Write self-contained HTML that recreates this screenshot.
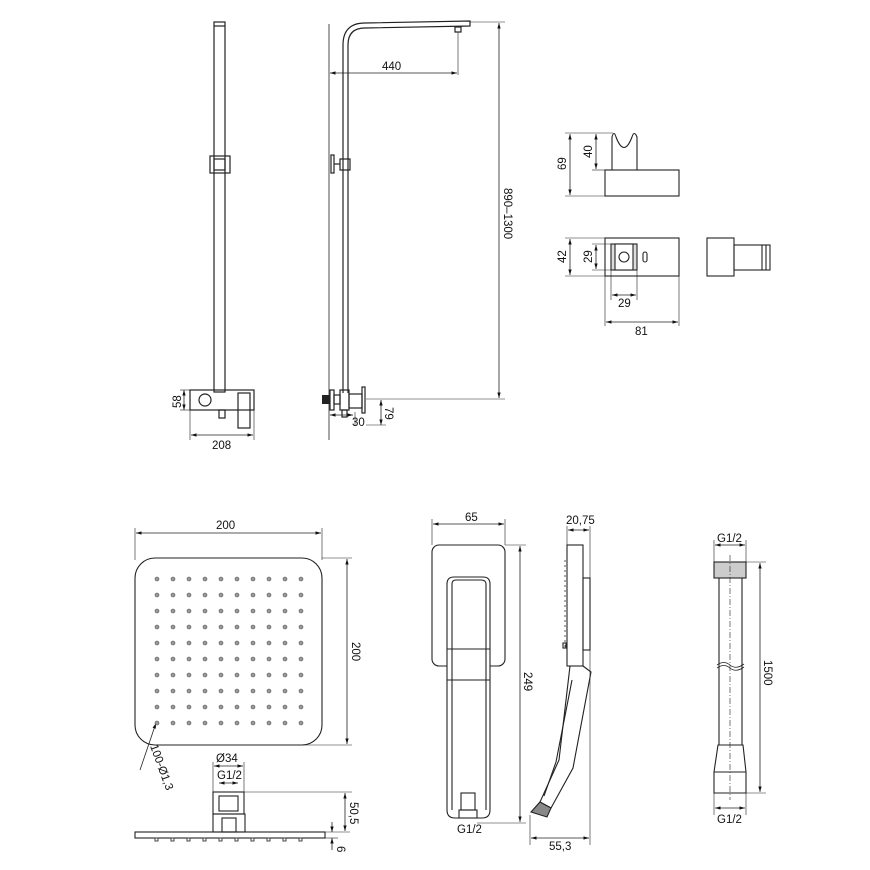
<!DOCTYPE html>
<html><head><meta charset="utf-8"><style>
html,body{margin:0;padding:0;background:#fff}
svg{display:block}
text{font-family:"Liberation Sans",sans-serif;font-size:11.5px;fill:#111}
</style></head><body>
<svg width="870" height="870" viewBox="0 0 870 870" xmlns="http://www.w3.org/2000/svg">
<defs>
<marker id="a" viewBox="0 0 10 10" refX="10" refY="5" markerWidth="7" markerHeight="7" orient="auto-start-reverse"><path d="M0,2 L10,5 L0,8z" fill="#111"/></marker>
</defs>
<g fill="none" stroke="#222" stroke-width="1.2">
<rect x="214" y="22" width="11" height="370"/>
<line x1="214" y1="26" x2="225" y2="26"/>
<rect x="210" y="156" width="20" height="17"/>
<rect x="214" y="159" width="11" height="11"/>
<rect x="190" y="390" width="64" height="20"/>
<circle cx="205" cy="400" r="6"/>
<rect x="238" y="393" width="12" height="35"/>
<rect x="219" y="410" width="6" height="8"/>
<line x1="184" y1="390" x2="184" y2="410" stroke-width="0.8" marker-start="url(#a)" marker-end="url(#a)"/>
<line x1="180" y1="390" x2="190" y2="390" stroke-width="0.6"/>
<line x1="180" y1="410" x2="190" y2="410" stroke-width="0.6"/>
<line x1="190" y1="410" x2="190" y2="440" stroke-width="0.6"/>
<line x1="254" y1="410" x2="254" y2="440" stroke-width="0.6"/>
<line x1="191" y1="435" x2="253" y2="435" stroke-width="0.8" marker-start="url(#a)" marker-end="url(#a)"/>

<line x1="329" y1="24" x2="329" y2="440" stroke-width="0.8"/>
<path d="M343,393 L343,45 Q343,23 365,23 L470,21 L470,26 L365,28 Q348,28 348,45 L348,393"/>
<rect x="455" y="27" width="6" height="5"/>
<line x1="458" y1="32" x2="458" y2="75" stroke-width="0.6"/>
<line x1="330" y1="73" x2="457" y2="73" stroke-width="0.8" marker-start="url(#a)" marker-end="url(#a)"/>
<rect x="340" y="159" width="10" height="11"/>
<rect x="331" y="155" width="3" height="18"/>
<line x1="334" y1="164" x2="340" y2="164"/>
<line x1="470" y1="22" x2="505" y2="22" stroke-width="0.6"/>
<line x1="366" y1="399" x2="505" y2="399" stroke-width="0.6"/>
<line x1="499" y1="23" x2="499" y2="398" stroke-width="0.8" marker-start="url(#a)" marker-end="url(#a)"/>
<rect x="330" y="390" width="4" height="20"/>
<rect x="334" y="395" width="6" height="9"/>
<rect x="340" y="390" width="9" height="20"/>
<rect x="349" y="394" width="13" height="14"/>
<rect x="362" y="387" width="3" height="26"/>
<rect x="342" y="410" width="5" height="7"/>
<line x1="366" y1="425" x2="386" y2="425" stroke-width="0.6"/>
<line x1="381" y1="400" x2="381" y2="425" stroke-width="0.8" marker-start="url(#a)" marker-end="url(#a)"/>
<line x1="330" y1="415" x2="353" y2="415" stroke-width="0.8" marker-start="url(#a)" marker-end="url(#a)"/>
<line x1="355" y1="412" x2="355" y2="426" stroke-width="0.6"/>
</g>
<rect x="322" y="395" width="8" height="9" fill="#222"/>
<text x="0" y="0" transform="translate(181,408) rotate(-90)">58</text>
<text x="212" y="449">208</text>
<text x="382" y="70">440</text>
<text x="0" y="0" transform="translate(504,188) rotate(90)">890–1300</text>
<text x="0" y="0" transform="translate(385,407) rotate(90)">79</text>
<text x="352" y="426">30</text>

<g fill="none" stroke="#222" stroke-width="1.1">
<rect x="605" y="170" width="74" height="26"/>
<path d="M612,170 L612,137 Q614,130 616,137 Q624,158 632,137 Q634,130 637,137 L637,170"/>
<line x1="570" y1="134" x2="570" y2="195" stroke-width="0.8" marker-start="url(#a)" marker-end="url(#a)"/>
<line x1="565" y1="133" x2="613" y2="133" stroke-width="0.6"/>
<line x1="565" y1="196" x2="605" y2="196" stroke-width="0.6"/>
<line x1="596" y1="134" x2="596" y2="169" stroke-width="0.8" marker-start="url(#a)" marker-end="url(#a)"/>
<line x1="592" y1="170" x2="605" y2="170" stroke-width="0.6"/>
<rect x="605" y="238" width="74" height="38"/>
<rect x="611" y="244" width="26" height="26" fill="#ddd"/>
<rect x="615" y="244" width="18" height="26" fill="#fff"/>
<circle cx="624" cy="257" r="5"/>
<rect x="643" y="252" width="4" height="10" rx="2"/>
<line x1="570" y1="239" x2="570" y2="275" stroke-width="0.8" marker-start="url(#a)" marker-end="url(#a)"/>
<line x1="565" y1="238" x2="605" y2="238" stroke-width="0.6"/>
<line x1="565" y1="276" x2="605" y2="276" stroke-width="0.6"/>
<line x1="596" y1="245" x2="596" y2="269" stroke-width="0.8" marker-start="url(#a)" marker-end="url(#a)"/>
<line x1="592" y1="244" x2="611" y2="244" stroke-width="0.6"/>
<line x1="592" y1="270" x2="611" y2="270" stroke-width="0.6"/>
<line x1="611" y1="270" x2="611" y2="300" stroke-width="0.6"/>
<line x1="637" y1="270" x2="637" y2="300" stroke-width="0.6"/>
<line x1="612" y1="295" x2="636" y2="295" stroke-width="0.8" marker-start="url(#a)" marker-end="url(#a)"/>
<line x1="605" y1="276" x2="605" y2="326" stroke-width="0.6"/>
<line x1="679" y1="276" x2="679" y2="326" stroke-width="0.6"/>
<line x1="606" y1="322" x2="678" y2="322" stroke-width="0.8" marker-start="url(#a)" marker-end="url(#a)"/>
<rect x="707" y="238" width="27" height="38"/>
<rect x="734" y="245" width="36" height="25"/>
<line x1="762" y1="245" x2="762" y2="270"/>
<line x1="766" y1="245" x2="766" y2="270"/>
</g>
<text x="0" y="0" transform="translate(566,170) rotate(-90)">69</text>
<text x="0" y="0" transform="translate(592,158) rotate(-90)">40</text>
<text x="0" y="0" transform="translate(566,263) rotate(-90)">42</text>
<text x="0" y="0" transform="translate(592,263) rotate(-90)">29</text>
<text x="618" y="307">29</text>
<text x="635" y="335">81</text>

<g fill="none" stroke="#222" stroke-width="1.1">
<rect x="135" y="558" width="187" height="187" rx="20"/>
<line x1="135" y1="528" x2="135" y2="560" stroke-width="0.6"/>
<line x1="322" y1="528" x2="322" y2="560" stroke-width="0.6"/>
<line x1="136" y1="533" x2="321" y2="533" stroke-width="0.8" marker-start="url(#a)" marker-end="url(#a)"/>
<line x1="322" y1="558" x2="352" y2="558" stroke-width="0.6"/>
<line x1="300" y1="745" x2="352" y2="745" stroke-width="0.6"/>
<line x1="347" y1="559" x2="347" y2="744" stroke-width="0.8" marker-start="url(#a)" marker-end="url(#a)"/>
<line x1="156" y1="723" x2="140" y2="770" stroke-width="0.8" marker-start="url(#a)"/>
<rect x="213" y="792" width="31" height="22"/>
<rect x="219" y="796" width="19" height="15"/>
<rect x="213" y="814" width="32" height="18"/>
<rect x="222" y="818" width="14" height="14"/>
<rect x="135" y="832" width="190" height="6"/>
<line x1="213" y1="762" x2="213" y2="792" stroke-width="0.6"/>
<line x1="244" y1="762" x2="244" y2="792" stroke-width="0.6"/>
<line x1="214" y1="766" x2="243" y2="766" stroke-width="0.8" marker-start="url(#a)" marker-end="url(#a)"/>
<line x1="219" y1="783" x2="238" y2="783" stroke-width="0.8" marker-start="url(#a)" marker-end="url(#a)"/>
<line x1="238" y1="792" x2="352" y2="792" stroke-width="0.6"/>
<line x1="345" y1="793" x2="345" y2="831" stroke-width="0.8" marker-start="url(#a)" marker-end="url(#a)"/>
<line x1="325" y1="832" x2="350" y2="832" stroke-width="0.6"/>
<line x1="325" y1="838" x2="338" y2="838" stroke-width="0.6"/>
<line x1="332" y1="822" x2="332" y2="832" stroke-width="0.8" marker-end="url(#a)"/>
<line x1="332" y1="850" x2="332" y2="838" stroke-width="0.8" marker-end="url(#a)"/>
</g>
<g fill="#999" stroke="#555" stroke-width="0.6">
<circle cx="157" cy="579" r="2"/><circle cx="173" cy="579" r="2"/><circle cx="189" cy="579" r="2"/><circle cx="205" cy="579" r="2"/><circle cx="221" cy="579" r="2"/><circle cx="237" cy="579" r="2"/><circle cx="253" cy="579" r="2"/><circle cx="269" cy="579" r="2"/><circle cx="285" cy="579" r="2"/><circle cx="301" cy="579" r="2"/>
<circle cx="157" cy="595" r="2"/><circle cx="173" cy="595" r="2"/><circle cx="189" cy="595" r="2"/><circle cx="205" cy="595" r="2"/><circle cx="221" cy="595" r="2"/><circle cx="237" cy="595" r="2"/><circle cx="253" cy="595" r="2"/><circle cx="269" cy="595" r="2"/><circle cx="285" cy="595" r="2"/><circle cx="301" cy="595" r="2"/>
<circle cx="157" cy="611" r="2"/><circle cx="173" cy="611" r="2"/><circle cx="189" cy="611" r="2"/><circle cx="205" cy="611" r="2"/><circle cx="221" cy="611" r="2"/><circle cx="237" cy="611" r="2"/><circle cx="253" cy="611" r="2"/><circle cx="269" cy="611" r="2"/><circle cx="285" cy="611" r="2"/><circle cx="301" cy="611" r="2"/>
<circle cx="157" cy="627" r="2"/><circle cx="173" cy="627" r="2"/><circle cx="189" cy="627" r="2"/><circle cx="205" cy="627" r="2"/><circle cx="221" cy="627" r="2"/><circle cx="237" cy="627" r="2"/><circle cx="253" cy="627" r="2"/><circle cx="269" cy="627" r="2"/><circle cx="285" cy="627" r="2"/><circle cx="301" cy="627" r="2"/>
<circle cx="157" cy="643" r="2"/><circle cx="173" cy="643" r="2"/><circle cx="189" cy="643" r="2"/><circle cx="205" cy="643" r="2"/><circle cx="221" cy="643" r="2"/><circle cx="237" cy="643" r="2"/><circle cx="253" cy="643" r="2"/><circle cx="269" cy="643" r="2"/><circle cx="285" cy="643" r="2"/><circle cx="301" cy="643" r="2"/>
<circle cx="157" cy="659" r="2"/><circle cx="173" cy="659" r="2"/><circle cx="189" cy="659" r="2"/><circle cx="205" cy="659" r="2"/><circle cx="221" cy="659" r="2"/><circle cx="237" cy="659" r="2"/><circle cx="253" cy="659" r="2"/><circle cx="269" cy="659" r="2"/><circle cx="285" cy="659" r="2"/><circle cx="301" cy="659" r="2"/>
<circle cx="157" cy="675" r="2"/><circle cx="173" cy="675" r="2"/><circle cx="189" cy="675" r="2"/><circle cx="205" cy="675" r="2"/><circle cx="221" cy="675" r="2"/><circle cx="237" cy="675" r="2"/><circle cx="253" cy="675" r="2"/><circle cx="269" cy="675" r="2"/><circle cx="285" cy="675" r="2"/><circle cx="301" cy="675" r="2"/>
<circle cx="157" cy="691" r="2"/><circle cx="173" cy="691" r="2"/><circle cx="189" cy="691" r="2"/><circle cx="205" cy="691" r="2"/><circle cx="221" cy="691" r="2"/><circle cx="237" cy="691" r="2"/><circle cx="253" cy="691" r="2"/><circle cx="269" cy="691" r="2"/><circle cx="285" cy="691" r="2"/><circle cx="301" cy="691" r="2"/>
<circle cx="157" cy="707" r="2"/><circle cx="173" cy="707" r="2"/><circle cx="189" cy="707" r="2"/><circle cx="205" cy="707" r="2"/><circle cx="221" cy="707" r="2"/><circle cx="237" cy="707" r="2"/><circle cx="253" cy="707" r="2"/><circle cx="269" cy="707" r="2"/><circle cx="285" cy="707" r="2"/><circle cx="301" cy="707" r="2"/>
<circle cx="157" cy="723" r="2"/><circle cx="173" cy="723" r="2"/><circle cx="189" cy="723" r="2"/><circle cx="205" cy="723" r="2"/><circle cx="221" cy="723" r="2"/><circle cx="237" cy="723" r="2"/><circle cx="253" cy="723" r="2"/><circle cx="269" cy="723" r="2"/><circle cx="285" cy="723" r="2"/><circle cx="301" cy="723" r="2"/>
</g>
<g fill="none" stroke="#444" stroke-width="1">
<rect x="155" y="838" width="3" height="3"/><rect x="171" y="838" width="3" height="3"/><rect x="187" y="838" width="3" height="3"/><rect x="203" y="838" width="3" height="3"/><rect x="219" y="838" width="3" height="3"/><rect x="235" y="838" width="3" height="3"/><rect x="251" y="838" width="3" height="3"/><rect x="267" y="838" width="3" height="3"/><rect x="283" y="838" width="3" height="3"/><rect x="299" y="838" width="3" height="3"/>
</g>
<text x="216" y="529">200</text>
<text x="0" y="0" transform="translate(352,642) rotate(90)">200</text>
<text x="0" y="0" transform="translate(150,746) rotate(70)">100-Ø1,3</text>
<text x="216" y="762">Ø34</text>
<text x="217" y="779">G1/2</text>
<text x="0" y="0" transform="translate(350,802) rotate(90)">50,5</text>
<text x="0" y="0" transform="translate(337,846) rotate(90)">6</text>

<g fill="none" stroke="#222" stroke-width="1.1">
<rect x="432" y="545" width="73" height="121" rx="7"/>
<path d="M447,810 L447,584 Q447,577 454,577 L483,577 Q490,577 490,584 L490,810 Q490,818 482,818 L455,818 Q447,818 447,810z" fill="#fff"/>
<path d="M452,810 L452,584 Q452,580 456,580 L481,580 Q486,580 486,584 L486,810"/>
<line x1="447" y1="649" x2="490" y2="649"/>
<line x1="447" y1="680" x2="490" y2="680"/>
<rect x="461" y="793" width="14" height="17"/>
<rect x="459" y="810" width="18" height="8"/>
<line x1="432" y1="519" x2="432" y2="545" stroke-width="0.6"/>
<line x1="505" y1="519" x2="505" y2="545" stroke-width="0.6"/>
<line x1="433" y1="524" x2="504" y2="524" stroke-width="0.8" marker-start="url(#a)" marker-end="url(#a)"/>
<line x1="505" y1="545" x2="526" y2="545" stroke-width="0.6"/>
<line x1="477" y1="823" x2="526" y2="823" stroke-width="0.6"/>
<line x1="520" y1="546" x2="520" y2="822" stroke-width="0.8" marker-start="url(#a)" marker-end="url(#a)"/>
</g>
<text x="465" y="521">65</text>
<text x="0" y="0" transform="translate(524,672) rotate(90)">249</text>
<text x="457" y="833">G1/2</text>

<g fill="none" stroke="#222" stroke-width="1.1">
<rect x="567" y="545" width="16" height="121"/>
<rect x="583" y="578" width="7" height="72"/>
<line x1="565" y1="560" x2="565" y2="650" stroke-dasharray="2,3" stroke="#666"/>
<rect x="563" y="643" width="3" height="5"/>
<path d="M570,666 L559,760 L540,802 L551,808 L573,768 L591,672 L583,666"/>
<path d="M572,680 L556,762 L544,796"/>
<path d="M540,802 L551,808 L547,817 L531,812z" fill="#888"/>
<line x1="567" y1="526" x2="567" y2="545" stroke-width="0.6"/>
<line x1="590" y1="526" x2="590" y2="845" stroke-width="0.6"/>
<line x1="568" y1="530" x2="589" y2="530" stroke-width="0.8" marker-start="url(#a)" marker-end="url(#a)"/>
<line x1="530" y1="815" x2="530" y2="845" stroke-width="0.6"/>
<line x1="531" y1="838" x2="589" y2="838" stroke-width="0.8" marker-start="url(#a)" marker-end="url(#a)"/>
</g>
<text x="566" y="524">20,75</text>
<text x="549" y="850">55,3</text>

<g fill="none" stroke="#222" stroke-width="1.1">
<rect x="714" y="562" width="32" height="16" fill="#ccc"/>
<line x1="719" y1="578" x2="719" y2="745"/>
<line x1="742" y1="578" x2="742" y2="745"/>
<path d="M718,745 L743,745 L746,772 L746,793 L714,793 L714,772z" fill="#fff"/>
<line x1="714" y1="772" x2="746" y2="772"/>
<line x1="730" y1="555" x2="730" y2="800" stroke-dasharray="6,2,1,2" stroke-width="0.6"/>
<line x1="714" y1="540" x2="714" y2="562" stroke-width="0.6"/>
<line x1="746" y1="540" x2="746" y2="562" stroke-width="0.6"/>
<line x1="715" y1="545" x2="745" y2="545" stroke-width="0.8" marker-start="url(#a)" marker-end="url(#a)"/>
<line x1="714" y1="793" x2="714" y2="815" stroke-width="0.6"/>
<line x1="746" y1="793" x2="746" y2="815" stroke-width="0.6"/>
<line x1="715" y1="808" x2="745" y2="808" stroke-width="0.8" marker-start="url(#a)" marker-end="url(#a)"/>
<line x1="746" y1="562" x2="766" y2="562" stroke-width="0.6"/>
<line x1="746" y1="793" x2="766" y2="793" stroke-width="0.6"/>
<line x1="760" y1="563" x2="760" y2="792" stroke-width="0.8" marker-start="url(#a)" marker-end="url(#a)"/>
<path d="M717,665 Q724,660 730,665 Q736,670 744,664" stroke-width="0.8"/>
<path d="M717,668 Q724,663 730,668 Q736,673 744,667" stroke-width="0.8"/>
</g>
<text x="717" y="542">G1/2</text>
<text x="717" y="823">G1/2</text>
<text x="0" y="0" transform="translate(764,660) rotate(90)">1500</text>
</svg>
</body></html>
